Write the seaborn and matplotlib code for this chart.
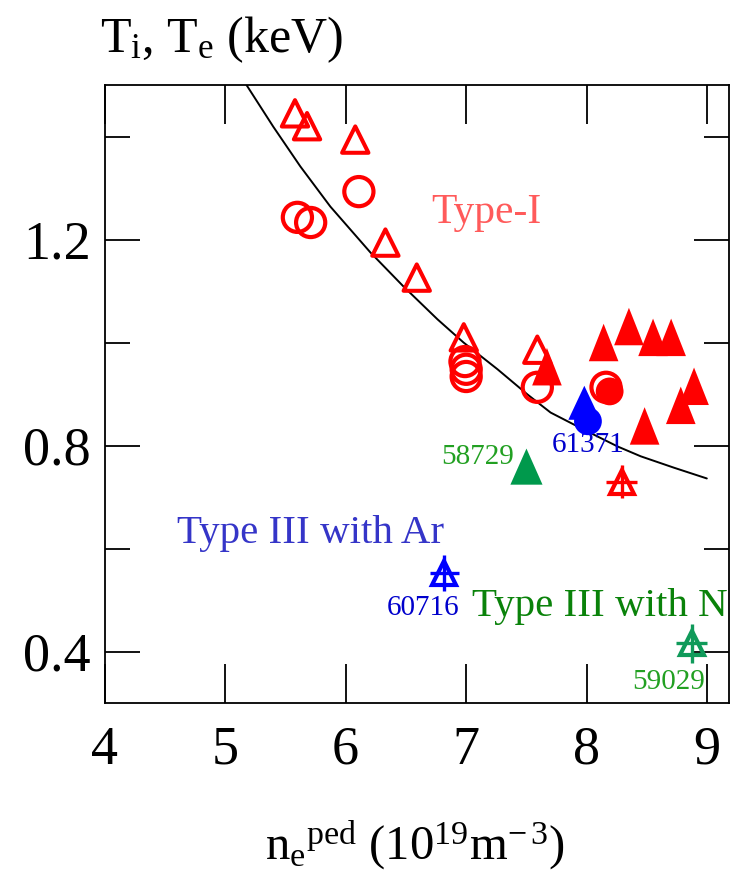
import numpy as np
import pandas as pd
import matplotlib
matplotlib.use("Agg")
import matplotlib.pyplot as plt
from matplotlib.markers import MarkerStyle
import seaborn as sns

# ---- data -------------------------------------------------------------
# Type-I ELMy H-mode, pedestal ion temperature (open triangles)
ti_ne = [5.58, 5.68, 6.08, 6.33, 6.59, 6.98, 7.59]
ti_keV = [1.445, 1.42, 1.394, 1.194, 1.126, 1.01, 0.986]

# Type-I, pedestal electron temperature (open circles)
te_ne = [5.60, 5.71, 6.11, 6.99, 7.00, 7.00, 7.59, 8.16]
te_keV = [1.243, 1.233, 1.293, 0.963, 0.948, 0.934, 0.913, 0.913]

# Type-I, high-density discharges (filled triangles / filled circle)
ti_hd_ne = [7.67, 8.14, 8.35, 8.55, 8.70, 8.89, 8.78, 8.48]
ti_hd_keV = [0.953, 1.0, 1.031, 1.01, 1.01, 0.915, 0.878, 0.838]
te_hd_ne = [8.19]
te_hd_keV = [0.905]

# Impurity-seeded shots
n2_ti_ne = [7.50]          # 58729, N2 seeded, Ti
n2_ti_keV = [0.759]
ar_ti_ne = [7.98]          # 61371, Ar seeded, Ti
ar_ti_keV = [0.883]
ar_te_ne = [8.01]          # 61371, Ar seeded, Te
ar_te_keV = [0.847]

# Type III shots with error bars (red: type-I reference, blue: Ar, green: N2)
err_ne = [8.29, 6.82, 8.87]
err_keV = [0.730, 0.553, 0.416]
err_dne = [0.13, 0.12, 0.13]
err_dkeV = [0.032, 0.035, 0.038]

# Pedestal pressure limit curve
fit_ne = [5.175, 5.400, 5.624, 5.873, 6.205, 6.479, 6.762, 6.978,
          7.260, 7.509, 7.700, 7.974, 8.257, 8.448, 8.722, 8.996]
fit_keV = [1.501, 1.419, 1.342, 1.264, 1.175, 1.109, 1.045, 1.000,
           0.948, 0.899, 0.864, 0.831, 0.798, 0.779, 0.757, 0.736]

x_ticks = [4, 5, 6, 7, 8, 9]
y_major = [0.4, 0.8, 1.2]
y_minor = [0.6, 1.0, 1.4]

# ---- style ------------------------------------------------------------
sns.set_theme(style="ticks")
plt.rcParams["font.family"] = ["Liberation Serif", "DejaVu Serif"]
plt.rcParams["mathtext.fontset"] = "custom"
plt.rcParams["mathtext.rm"] = "Liberation Serif"
plt.rcParams["mathtext.it"] = "Liberation Serif:italic"
plt.rcParams["mathtext.default"] = "rm"
plt.rcParams["text.color"] = "black"
plt.rcParams["axes.labelcolor"] = "black"

RED = "#ff0000"
BLUE = "#0000ff"
GREEN = "#00994c"

fig = plt.figure(figsize=(7.5, 8.73), dpi=100)
ax = fig.add_axes([104.5 / 750, 1 - 703 / 873, (729 - 104.5) / 750, (703 - 85) / 873])

def tall_triangle(aspect):
    return MarkerStyle(np.array([[-aspect, -1.0], [aspect, -1.0], [0.0, 1.0], [-aspect, -1.0]]))

# curve
sns.lineplot(x=fit_ne, y=fit_keV, color="black", linewidth=1.4, ax=ax, sort=False, zorder=2)

# open symbols
sns.scatterplot(x=te_ne, y=te_keV, marker="o", s=21 ** 2, facecolor="none",
                edgecolor=RED, linewidth=3.0, ax=ax, zorder=3)
sns.scatterplot(x=ti_ne, y=ti_keV, marker="^", s=19 ** 2, facecolor="none",
                edgecolor=RED, linewidth=2.9, ax=ax, zorder=3)

# filled symbols
sns.scatterplot(x=ti_hd_ne, y=ti_hd_keV, marker=tall_triangle(0.79), s=27 ** 2,
                color=RED, edgecolor="none", linewidth=0, ax=ax, zorder=4)
sns.scatterplot(x=te_hd_ne, y=te_hd_keV, marker="o", s=20 ** 2,
                color=RED, edgecolor="none", linewidth=0, ax=ax, zorder=4)
sns.scatterplot(x=n2_ti_ne, y=n2_ti_keV, marker=tall_triangle(0.89), s=26 ** 2,
                color=GREEN, edgecolor="none", linewidth=0, ax=ax, zorder=4)
sns.scatterplot(x=ar_ti_ne, y=ar_ti_keV, marker=tall_triangle(0.94), s=24.5 ** 2,
                color=BLUE, edgecolor="none", linewidth=0, ax=ax, zorder=5)
sns.scatterplot(x=ar_te_ne, y=ar_te_keV, marker="o", s=20 ** 2,
                color=BLUE, edgecolor="none", linewidth=0, ax=ax, zorder=5)

# triangles with error bars
for xv, yv, dx, dy, c in zip(err_ne, err_keV, err_dne, err_dkeV, [RED, BLUE, "#109a5a"]):
    ax.errorbar([xv], [yv], xerr=[dx], yerr=[dy], fmt="^", ms=17, mfc="none",
                mec=c, mew=3.0, ecolor=c, elinewidth=2.4, capsize=0, zorder=5)

# annotations
ax.text(7.17, 1.252, "Type-I", color="#ff5a5a", fontsize=30, ha="center", va="center")
ax.text(5.71, 0.630, "Type III with Ar", color="#3535c8", fontsize=29.5, ha="center", va="center")
ax.text(7.05, 0.488, "Type III with N", color="#0a820a", fontsize=29.5, ha="left",
        va="center", clip_on=False)
ax.text(7.40, 0.777, "58729", color="#22a022", fontsize=21, ha="right", va="center")
ax.text(8.01, 0.800, "61371", color="#0000cc", fontsize=21, ha="center", va="center")
ax.text(6.645, 0.485, "60716", color="#0000cc", fontsize=21, ha="center", va="center")
ax.text(8.68, 0.340, "59029", color="#22a022", fontsize=21, ha="center", va="center")

# axes
ax.set_xlim(4, 9.18)
ax.set_ylim(0.3, 1.5)
ax.set_xticks(x_ticks)
ax.set_xticklabels([str(t) for t in x_ticks])
ax.set_yticks(y_major)
ax.set_yticklabels([f"{t:.1f}" for t in y_major])
ax.set_yticks(y_minor, minor=True)
ax.set_xlabel("")
ax.set_ylabel("")
for side in ["left", "right", "top", "bottom"]:
    ax.spines[side].set_visible(True)
    ax.spines[side].set_linewidth(1.3)
    ax.spines[side].set_color("black")
ax.tick_params(axis="x", which="major", direction="in", length=28, width=1.3,
               top=True, bottom=True, labelsize=39, pad=16, colors="black")
ax.tick_params(axis="y", which="major", direction="in", length=25, width=1.3,
               left=True, right=True, labelsize=39, pad=10, colors="black")
ax.tick_params(axis="y", which="minor", direction="in", length=18, width=1.3,
               left=True, right=True, colors="black")
ax.tick_params(axis="x", which="minor", bottom=False, top=False)

fig.text(100 / 750, 1 - 52 / 873, r"T$_\mathrm{i}$, T$_\mathrm{e}$ (keV)",
         fontsize=36, ha="left", va="baseline", color="black")
fig.text(415 / 750, 1 - 860 / 873, r"n$_\mathrm{e}$$^\mathrm{ped}$ (10$^\mathrm{19}$m$^\mathrm{-\,3}$)",
         fontsize=35, ha="center", va="baseline", color="black")

fig.savefig("out.png", dpi=100)
